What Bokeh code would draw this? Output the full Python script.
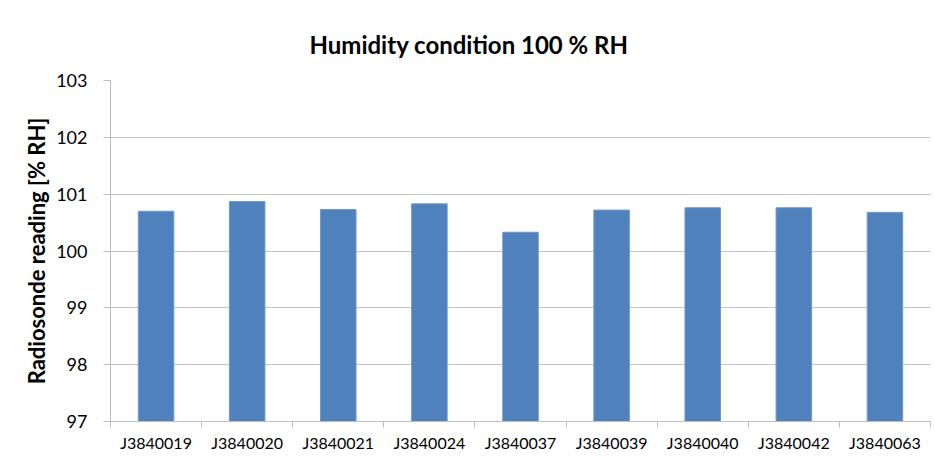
from bokeh.plotting import figure
from bokeh.models import Range1d, FixedTicker, Title
from bokeh.embed import file_html
from bokeh.resources import INLINE

categories = ["J3840019", "J3840020", "J3840021", "J3840024", "J3840037",
              "J3840039", "J3840040", "J3840042", "J3840063"]
readings = [100.70, 100.87, 100.73, 100.83, 100.33, 100.72, 100.76, 100.76, 100.68]
y_ticks = [97, 98, 99, 100, 101, 102, 103]

FONT = "Lato"
xs = [i + 0.5 for i in range(len(categories))]

p = figure(width=932, height=460, output_backend="svg", toolbar_location=None,
           x_range=Range1d(0, len(categories)), y_range=Range1d(97, 103),
           min_border_left=110, min_border_right=2, min_border_bottom=39, min_border_top=80)

p.vbar(x=xs, top=readings, bottom=97, width=0.39,
       fill_color="#4F81BD", line_color="#6f98cc", line_width=1)

title = Title(text="Humidity condition 100 % RH", align="left", offset=199,
              text_font=FONT, text_font_size="24px", text_font_style="bold",
              text_color="#000000", standoff=44)
p.add_layout(title, "above")

p.outline_line_color = None
p.background_fill_color = "white"
p.border_fill_color = "white"

p.xgrid.visible = False
p.ygrid.grid_line_color = "#c4c4c4"
p.ygrid.grid_line_width = 1
p.ygrid.ticker = FixedTicker(ticks=y_ticks)

yax = p.yaxis[0]
yax.ticker = FixedTicker(ticks=y_ticks)
yax.axis_line_color = "#bdbdbd"
yax.major_tick_line_color = "#bdbdbd"
yax.major_tick_out = 7
yax.major_tick_in = 0
yax.minor_tick_line_color = None
yax.major_label_standoff = 16
yax.major_label_text_font = FONT
yax.major_label_text_font_size = "18px"
yax.major_label_text_color = "#000000"
yax.axis_label = "Radiosonde reading [% RH]"
yax.axis_label_text_font = FONT
yax.axis_label_text_font_size = "22px"
yax.axis_label_text_font_style = "bold"
yax.axis_label_text_color = "#000000"
yax.axis_label_standoff = 3

xax = p.xaxis[0]
xax.ticker = FixedTicker(ticks=xs, minor_ticks=list(range(len(categories) + 1)))
xax.major_label_overrides = {x: c for x, c in zip(xs, categories)}
xax.axis_line_color = "#bdbdbd"
xax.major_tick_line_color = None
xax.major_tick_out = 0
xax.major_tick_in = 0
xax.minor_tick_line_color = "#bdbdbd"
xax.minor_tick_out = 6
xax.minor_tick_in = 0
xax.major_label_standoff = 5
xax.major_label_text_font = FONT
xax.major_label_text_font_size = "16px"
xax.major_label_text_color = "#000000"

open("out.html", "w").write(file_html(p, INLINE))
